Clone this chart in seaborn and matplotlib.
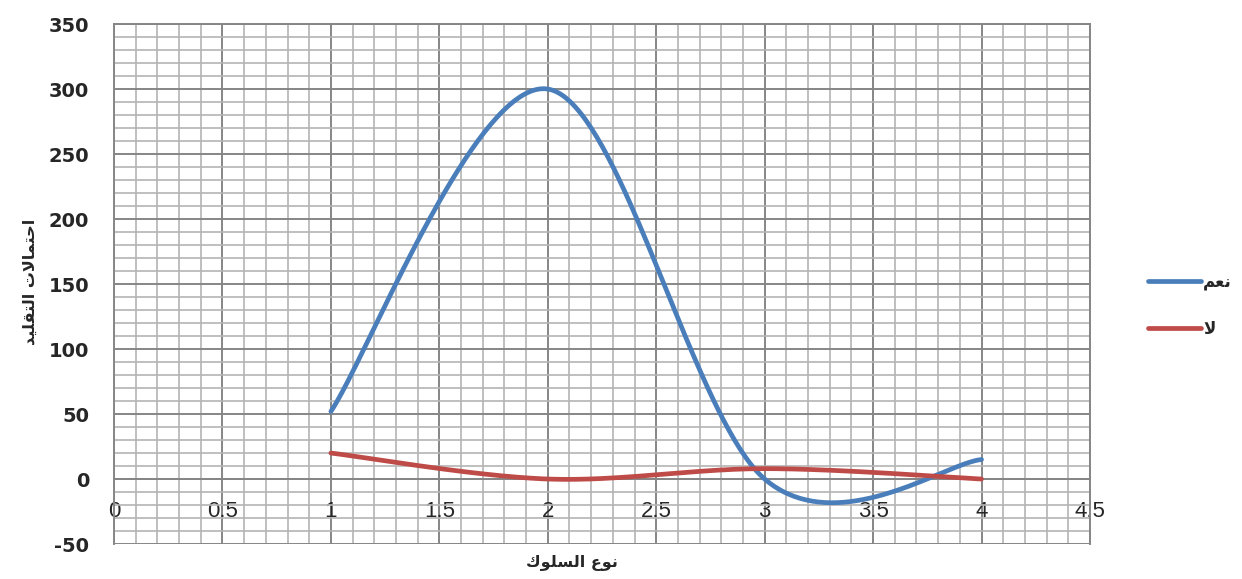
import numpy as np
import pandas as pd
import matplotlib
matplotlib.use("Agg")
import matplotlib.pyplot as plt
from matplotlib.ticker import MultipleLocator, FuncFormatter
import seaborn as sns

# ---- data -------------------------------------------------------------
behaviour = [1, 2, 3, 4]
yes_values = [52, 300, 0, 15]
no_values = [20, 0, 8, 0]
series_names = ["نعم", "لا"]
x_label = "نوع السلوك"
y_label = "احتمالات التقليد"

BLUE = "#4A7EBB"
RED = "#BE4B48"

# ---- minimal Arabic shaping (presentation forms, visual order) --------
AR_FORMS = {
    "ا": ("\uFE8D", "\uFE8E", None, None),
    "د": ("\uFEA9", "\uFEAA", None, None),
    "و": ("\uFEED", "\uFEEE", None, None),
    "ح": ("\uFEA1", "\uFEA2", "\uFEA3", "\uFEA4"),
    "ت": ("\uFE95", "\uFE96", "\uFE97", "\uFE98"),
    "م": ("\uFEE1", "\uFEE2", "\uFEE3", "\uFEE4"),
    "ل": ("\uFEDD", "\uFEDE", "\uFEDF", "\uFEE0"),
    "ق": ("\uFED5", "\uFED6", "\uFED7", "\uFED8"),
    "ي": ("\uFEF1", "\uFEF2", "\uFEF3", "\uFEF4"),
    "ن": ("\uFEE5", "\uFEE6", "\uFEE7", "\uFEE8"),
    "ع": ("\uFEC9", "\uFECA", "\uFECB", "\uFECC"),
    "س": ("\uFEB1", "\uFEB2", "\uFEB3", "\uFEB4"),
    "ك": ("\uFED9", "\uFEDA", "\uFEDB", "\uFEDC"),
}


def shape_arabic(text):
    out = []
    i = 0
    n = len(text)
    while i < n:
        c = text[i]
        if c not in AR_FORMS:
            out.append(c)
            i += 1
            continue
        prev = text[i - 1] if i > 0 else None
        join_prev = prev in AR_FORMS and AR_FORMS[prev][2] is not None
        if c == "ل" and i + 1 < n and text[i + 1] == "ا":
            out.append("\uFEFC" if join_prev else "\uFEFB")
            i += 2
            continue
        nxt = text[i + 1] if i + 1 < n else None
        join_next = AR_FORMS[c][2] is not None and nxt in AR_FORMS
        iso, fin, ini, med = AR_FORMS[c]
        if join_prev and join_next:
            out.append(med)
        elif join_prev:
            out.append(fin)
        elif join_next:
            out.append(ini)
        else:
            out.append(iso)
        i += 1
    return "".join(reversed(out))


# ---- smoothed line (Catmull-Rom style Bezier, as spreadsheet smoothing) --
def smooth_curve(xs, ys, steps=80):
    pts = np.column_stack([xs, ys]).astype(float)
    ext = np.vstack([pts[0], pts, pts[-1]])
    t = np.linspace(0, 1, steps)[:, None]
    segs = []
    for i in range(len(pts) - 1):
        p0, p1, p2, p3 = ext[i], ext[i + 1], ext[i + 2], ext[i + 3]
        c1 = p1 + (p2 - p0) / 6.0
        c2 = p2 - (p3 - p1) / 6.0
        seg = ((1 - t) ** 3) * p1 + 3 * ((1 - t) ** 2) * t * c1 \
            + 3 * (1 - t) * t ** 2 * c2 + t ** 3 * p2
        segs.append(seg if i == 0 else seg[1:])
    curve = np.vstack(segs)
    return curve[:, 0], curve[:, 1]


frames = []
for name, vals in zip(series_names, [yes_values, no_values]):
    cx, cy = smooth_curve(behaviour, vals)
    frames.append(pd.DataFrame({"x": cx, "y": cy,
                                "series": shape_arabic(name)}))
df = pd.concat(frames, ignore_index=True)

# ---- figure -----------------------------------------------------------
sns.set_style("white")
plt.rcParams["font.family"] = ["DejaVu Sans"]

fig = plt.figure(figsize=(12.42, 5.79), dpi=100)
ax = fig.add_axes([0.0918, 0.0604, 0.7858, 0.8981])

sns.lineplot(data=df, x="x", y="y", hue="series", units="series",
             estimator=None, sort=False, linewidth=3.4,
             palette=[BLUE, RED], ax=ax, legend=False, zorder=3)

ax.set_xlim(0, 4.5)
ax.set_ylim(-50, 350)
ax.xaxis.set_major_locator(MultipleLocator(0.5))
ax.xaxis.set_minor_locator(MultipleLocator(0.1))
ax.yaxis.set_major_locator(MultipleLocator(50))
ax.yaxis.set_minor_locator(MultipleLocator(10))

ax.grid(True, which="minor", color="#B4B4B4", linewidth=1.2, zorder=0)
ax.grid(True, which="major", color="#868686", linewidth=1.4, zorder=1)
ax.set_axisbelow(True)

ax.xaxis.set_major_formatter(FuncFormatter(lambda v, p: f"{v:g}"))
ax.yaxis.set_major_formatter(FuncFormatter(lambda v, p: f"{v:g}"))

for side in ["top", "right", "left"]:
    ax.spines[side].set_color("#868686")
    ax.spines[side].set_linewidth(1.4)
ax.spines["bottom"].set_position(("data", 0))
ax.spines["bottom"].set_color("#868686")
ax.spines["bottom"].set_linewidth(1.4)

ax.tick_params(axis="y", which="major", length=5, width=1.2,
               color="#868686", pad=13, labelsize=14)
ax.tick_params(axis="y", which="minor", length=0)
ax.tick_params(axis="x", which="both", length=0, pad=16,
               labelsize=16, labelfontfamily="Liberation Sans")
for lab in ax.get_yticklabels():
    lab.set_fontweight("bold")

ax.set_xlabel(shape_arabic(x_label), fontsize=11.5, fontweight="bold")
ax.set_ylabel(shape_arabic(y_label), fontsize=11.5, fontweight="bold")
ax.xaxis.set_label_coords(0.469, -0.022)
ax.yaxis.set_label_coords(-0.078, 0.505)

handles = [plt.Line2D([], [], color=BLUE, linewidth=3.4),
           plt.Line2D([], [], color=RED, linewidth=3.4)]
fig.legend(handles, [shape_arabic(s) for s in series_names],
           loc="center left", bbox_to_anchor=(0.9243, 0.473),
           frameon=False, borderpad=0, borderaxespad=0,
           handlelength=3.2, handletextpad=0.1, labelspacing=1.75,
           prop={"size": 12, "weight": "bold"})

fig.savefig("out.png", dpi=100)
